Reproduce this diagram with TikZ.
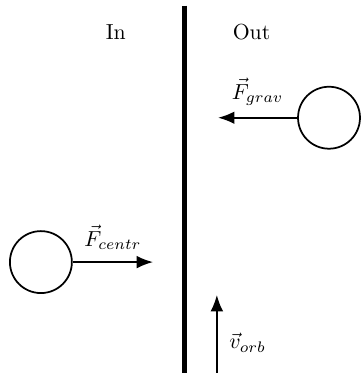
\documentclass[tikz,border=0pt]{standalone}
\usetikzlibrary{arrows.meta}
\begin{document}
\begin{tikzpicture}[thick]

	% Define custom styles for bodies and force arrows
	\tikzstyle{body} = [circle, draw, minimum size=1cm, inner sep=0pt]
	\tikzstyle{force} = [-{Latex[length=7.5pt, width=5.8pt]}, thick]

	\useasboundingbox (0,0) rectangle (5.82,6.02);

	% Dividing wall
	\coordinate (walltop) at (2.98,5.93);
	\coordinate (wallbottom) at (2.98,0);
	\draw[line width=2.2pt] (walltop) -- (wallbottom);

	% Side labels
	\node (in) at (1.87,5.50) {In};
	\node (out) at (4.06,5.50) {Out};

	% Bodies
	\node[body] (inner) at (0.66,1.79) {};
	\node[body] (outer) at (5.31,4.12) {};

	% Arrow ends
	\coordinate (centrend) at (2.47,1.79);
	\coordinate (gravend) at (3.52,4.12);
	\coordinate (orbstart) at (3.50,0);
	\coordinate (orbend) at (3.50,1.26);

	% Arrows with labels
	\draw[force] (inner) -- node[above, yshift=2pt] {$\vec{F}_{centr}$} (centrend);
	\draw[force] (outer) -- node[above, yshift=2pt] {$\vec{F}_{grav}$} (gravend);
	\draw[force] (orbstart) -- node[right, xshift=2pt, yshift=-4pt] {$\vec{v}_{orb}$} (orbend);

\end{tikzpicture}
\end{document}
